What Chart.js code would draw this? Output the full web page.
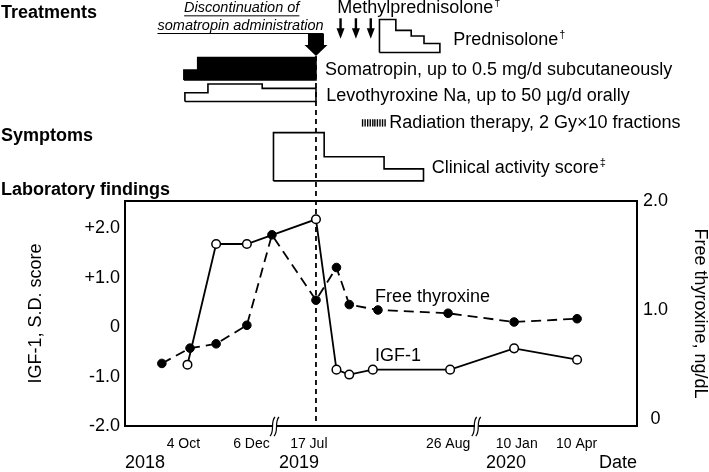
<!DOCTYPE html>
<html>
<head>
<meta charset="utf-8">
<title>Treatments, symptoms and laboratory findings</title>
<script src="https://cdn.jsdelivr.net/npm/chart.js@4.4.1/dist/chart.umd.min.js"></script>
<style>
  html, body { margin: 0; padding: 0; background: #fff; }
  canvas { display: block; }
</style>
</head>
<body>
<canvas id="timeline-chart" width="709" height="472"></canvas>
<script>
// Timeline is schematic (two axis breaks): 0 = left frame edge, 100 = right frame edge
const dateTickPos = [11.4, 24.7, 35.9, 63.1, 76.5, 88.2];
const dateTickLabels = ['4 Oct', '6 Dec', '17 Jul', '26 Aug', '10 Jan', '10 Apr'];
const yearTickPos = [3.9, 34.0, 74.4, 96.3];
const yearTickLabels = ['2018', '2019', '2020', 'Date'];
const axisBreakPos = [29.3, 68.7];

// Laboratory findings
const igfPos = [12.2, 17.8, 23.8, 37.3, 41.3, 43.8, 48.4, 63.5, 76.0, 88.3];
const igfScore = [-0.76, 1.68, 1.68, 2.18, -0.86, -0.96, -0.86, -0.86, -0.43, -0.66];
const ft4Pos = [7.2, 12.7, 17.8, 23.8, 28.7, 37.3, 41.3, 43.8, 49.4, 63.1, 76.0, 88.3];
const ft4Value = [0.51, 0.65, 0.69, 0.86, 1.69, 1.09, 1.39, 1.05, 1.00, 0.97, 0.89, 0.92];
const igfTicks = [-2, -1, 0, 1, 2];
const igfTickLabels = ['-2.0', '-1.0', '0', '+1.0', '+2.0'];
const ft4Ticks = [0, 1, 2];
const ft4TickLabels = ['0', '1.0', '2.0'];

// Treatments / symptoms: change points on the timeline and the level in between
const somatropinSteps = [11.5, 14.2, 37.3];
const somatropinLevel = [0.44, 1.0];          // fraction of 0.5 mg/d
const levothyroxineSteps = [11.7, 16.2, 26.8, 37.3];
const levothyroxineDose = [25, 50, 37.5];      // µg/d
const prednisoloneSteps = [49.7, 52.9, 55.9, 58.4, 61.5];
const prednisoloneLevel = [1.0, 0.67, 0.5, 0.27];
const casSteps = [29.0, 38.9, 50.6, 58.3];
const casScore = [4, 2, 1];
const methylprednisolonePulses = [42.1, 45.1, 48.0];
const radiationFractions = [46.4, 46.9, 47.4, 47.9, 48.4, 48.8, 49.3, 49.8, 50.3, 50.8];
const somatropinStop = 37.3;

// rows of the schematic panel (yT scale, 0 = top, 20 = top of the lab frame)
const tracks = {
  prednisolone: { base: 5.22, unit: 3.28 },
  somatropin: { base: 7.96, unit: 2.24 },
  levothyroxine: { base: 10.1, unit: 1.74 / 50 },
  radiation: { row: 12.23 },
  cas: { base: 18.0, unit: 1.2 }
};
const bigArrow = { top: 3.38, mid: 4.48, tip: 5.57, rectW: 16, headW: 23 };
const smallArrow = { top: 1.82, mid: 2.8, tip: 3.85, shaftW: 2.4, headW: 8 };

const FAMILY = '"Liberation Sans", Arial, Helvetica, sans-serif';
const notes = [
  { text: 'Treatments', margin: 1, y: 1.26, bold: true },
  { text: 'Symptoms', margin: 1, y: 13.53, bold: true },
  { text: 'Laboratory findings', margin: 1, y: 18.9, bold: true },
  { text: 'Discontinuation of', x: 22.8, y: 0.83, italic: true, size: 14.5, align: 'center', underline: true },
  { text: 'somatropin administration', x: 22.56, y: 2.59, italic: true, size: 14.5, align: 'center', underline: true },
  { text: 'Methylprednisolone', sup: '\u2020', x: 41.46, y: 0.83 },
  { text: 'Prednisolone', sup: '\u2020', x: 64.1, y: 3.98 },
  { text: 'Somatropin, up to 0.5 mg/d subcutaneously', x: 39.06, y: 6.97 },
  { text: 'Levothyroxine Na, up to 50 \u00b5g/d orally', x: 39.3, y: 9.55 },
  { text: 'Radiation therapy, 2 Gy\u00d710 fractions', x: 51.6, y: 12.2 },
  { text: 'Clinical activity score', sup: '\u2021', x: 59.9, y: 16.67 },
  { text: 'Free thyroxine', x: 48.83, y: 1.122, axis: 'y2' },
  { text: 'IGF-1', x: 48.83, y: -0.58, axis: 'y' }
];

function stepPolygon(steps, levels, track) {
  const pts = [{ x: steps[0], y: track.base }];
  levels.forEach((lv, i) => {
    const top = track.base - lv * track.unit;
    pts.push({ x: steps[i], y: top }, { x: steps[i + 1], y: top });
  });
  pts.push({ x: steps[steps.length - 1], y: track.base }, { x: steps[0], y: track.base });
  return pts;
}

function fontStr(n) {
  return (n.italic ? 'italic ' : '') + (n.bold ? 'bold ' : '') + (n.size || 18) + 'px ' + FAMILY;
}

// no label overflow padding, the frame is laid out by hand
function noOverflow(s) {
  s.paddingTop = 0; s.paddingBottom = 0; s.paddingLeft = 0; s.paddingRight = 0;
}

const timelineDecor = {
  id: 'timelineDecor',
  beforeDatasetsDraw(chart) {
    const { ctx, scales: { x, y, yT } } = chart;
    const px = x.getPixelForValue(somatropinStop);
    ctx.save();
    ctx.strokeStyle = '#000';
    ctx.lineWidth = 1.8;
    ctx.setLineDash([5, 4]);
    ctx.beginPath();
    ctx.moveTo(px, yT.getPixelForValue(bigArrow.tip));
    ctx.lineTo(px, y.bottom);
    ctx.stroke();
    ctx.restore();
  },
  afterDraw(chart) {
    const { ctx, scales } = chart;
    const { x, y, yT } = scales;
    ctx.save();

    // top edge of the lab frame
    ctx.strokeStyle = '#000';
    ctx.lineWidth = 2;
    ctx.beginPath();
    ctx.moveTo(x.left - 1, y.top);
    ctx.lineTo(x.right + 1, y.top);
    ctx.stroke();

    // discontinuation arrow
    ctx.fillStyle = '#000';
    const px = x.getPixelForValue(somatropinStop);
    const aTop = yT.getPixelForValue(bigArrow.top);
    const aMid = yT.getPixelForValue(bigArrow.mid);
    const aTip = yT.getPixelForValue(bigArrow.tip);
    ctx.beginPath();
    ctx.moveTo(px - bigArrow.rectW / 2, aTop);
    ctx.lineTo(px + bigArrow.rectW / 2, aTop);
    ctx.lineTo(px + bigArrow.rectW / 2, aMid);
    ctx.lineTo(px + bigArrow.headW / 2, aMid);
    ctx.lineTo(px, aTip);
    ctx.lineTo(px - bigArrow.headW / 2, aMid);
    ctx.lineTo(px - bigArrow.rectW / 2, aMid);
    ctx.closePath();
    ctx.fill();

    // methylprednisolone pulses
    const sTop = yT.getPixelForValue(smallArrow.top);
    const sMid = yT.getPixelForValue(smallArrow.mid);
    const sTip = yT.getPixelForValue(smallArrow.tip);
    methylprednisolonePulses.forEach(v => {
      const cx = x.getPixelForValue(v);
      ctx.fillRect(cx - smallArrow.shaftW / 2, sTop, smallArrow.shaftW, sMid - sTop + 1);
      ctx.beginPath();
      ctx.moveTo(cx - smallArrow.headW / 2, sMid);
      ctx.lineTo(cx + smallArrow.headW / 2, sMid);
      ctx.lineTo(cx, sTip);
      ctx.closePath();
      ctx.fill();
    });

    // axis breaks on the date axis
    const by = x.top;
    axisBreakPos.forEach(v => {
      const cx = x.getPixelForValue(v);
      ctx.fillStyle = '#fff';
      ctx.fillRect(cx - 2, by - 2, 4, 4);
      ctx.strokeStyle = '#000';
      ctx.lineWidth = 1.2;
      [-2, 2].forEach(d => {
        ctx.beginPath();
        ctx.moveTo(cx + d - 3, by + 10);
        ctx.bezierCurveTo(cx + d + 2, by + 5, cx + d - 3, by - 4, cx + d + 2, by - 9);
        ctx.stroke();
      });
    });

    // text annotations
    ctx.fillStyle = '#000';
    ctx.textBaseline = 'middle';
    notes.forEach(n => {
      const sy = scales[n.axis || 'yT'];
      const tx = n.margin !== undefined ? n.margin : x.getPixelForValue(n.x);
      const ty = sy.getPixelForValue(n.y);
      const align = n.align || 'left';
      ctx.font = fontStr(n);
      ctx.textAlign = align;
      ctx.fillText(n.text, tx, ty);
      const w = ctx.measureText(n.text).width;
      const x0 = align === 'center' ? tx - w / 2 : tx;
      if (n.underline) {
        ctx.lineWidth = 1;
        ctx.beginPath();
        ctx.moveTo(x0, ty + 7.5);
        ctx.lineTo(x0 + w, ty + 7.5);
        ctx.stroke();
      }
      if (n.sup) {
        ctx.font = '11px ' + FAMILY;
        ctx.textAlign = 'left';
        ctx.fillText(n.sup, x0 + w + 1, ty - 5);
      }
    });
    ctx.restore();
  }
};

const ctx = document.getElementById('timeline-chart');
Chart.defaults.font.family = FAMILY;
Chart.defaults.color = '#000';

const outline = {
  yAxisID: 'yT', borderColor: '#000', borderWidth: 1.6, pointRadius: 0,
  fill: false, tension: 0
};
const noGrid = { display: false, drawTicks: false };

new Chart(ctx, {
  type: 'line',
  data: {
    datasets: [{
      label: 'IGF-1',
      data: igfPos.map((v, i) => ({ x: v, y: igfScore[i] })),
      yAxisID: 'y',
      borderColor: '#000',
      borderWidth: 1.8,
      pointRadius: 4.3,
      pointBackgroundColor: '#fff',
      pointBorderColor: '#000',
      pointBorderWidth: 1.5,
      fill: false,
      tension: 0
    },
    {
      label: 'Free thyroxine',
      data: ft4Pos.map((v, i) => ({ x: v, y: ft4Value[i] })),
      yAxisID: 'y2',
      borderColor: '#000',
      borderWidth: 1.8,
      borderDash: [10, 6],
      pointRadius: 4.3,
      pointBackgroundColor: '#000',
      pointBorderColor: '#000',
      pointBorderWidth: 1,
      fill: false,
      tension: 0
    },
    Object.assign({}, outline, {
      label: 'Somatropin',
      data: stepPolygon(somatropinSteps, somatropinLevel, tracks.somatropin),
      backgroundColor: '#000',
      fill: 'shape'
    }),
    Object.assign({}, outline, {
      label: 'Levothyroxine Na',
      data: stepPolygon(levothyroxineSteps, levothyroxineDose, tracks.levothyroxine)
    }),
    Object.assign({}, outline, {
      label: 'Prednisolone',
      data: stepPolygon(prednisoloneSteps, prednisoloneLevel, tracks.prednisolone)
    }),
    Object.assign({}, outline, {
      label: 'Clinical activity score',
      data: stepPolygon(casSteps, casScore, tracks.cas)
    }),
    {
      label: 'Radiation therapy',
      data: radiationFractions.map(v => ({ x: v, y: tracks.radiation.row })),
      yAxisID: 'yT',
      showLine: false,
      pointStyle: 'line',
      pointRotation: 90,
      pointRadius: 3.7,
      pointBorderWidth: 1.4,
      pointBorderColor: '#000'
    }]
  },
  options: {
    responsive: false,
    animation: false,
    layout: { padding: 0, autoPadding: false },
    plugins: { legend: { display: false }, tooltip: { enabled: false } },
    scales: {
      x: {
        type: 'linear', position: 'bottom', weight: 0, min: 0, max: 100,
        grid: noGrid,
        border: { display: true, width: 2, color: '#000' },
        afterBuildTicks: s => { s.ticks = dateTickPos.map(v => ({ value: v })); },
        afterFit: s => { s.height = 26.5; noOverflow(s); },
        ticks: {
          autoSkip: false, maxRotation: 0, padding: 9.5,
          font: { size: 14, lineHeight: 1.2 },
          callback: (v, i) => dateTickLabels[i]
        }
      },
      x2: {
        type: 'linear', position: 'bottom', weight: 1, min: 0, max: 100,
        grid: noGrid,
        border: { display: false },
        afterBuildTicks: s => { s.ticks = yearTickPos.map(v => ({ value: v })); },
        afterFit: s => { s.height = 19.5; noOverflow(s); },
        ticks: {
          autoSkip: false, maxRotation: 0, padding: 1.5,
          font: { size: 18, lineHeight: 1 },
          callback: (v, i) => yearTickLabels[i]
        }
      },
      yT: {
        type: 'linear', position: 'left', stack: 'L', stackWeight: 201, weight: 2,
        display: false, reverse: true, min: 0, max: 20
      },
      y: {
        type: 'linear', position: 'left', stack: 'L', stackWeight: 225, weight: 1,
        min: -2, max: 2.55,
        grid: noGrid,
        border: { display: true, width: 2, color: '#000' },
        afterBuildTicks: s => { s.ticks = igfTicks.map(v => ({ value: v })); },
        afterFit: s => { s.width = 125; noOverflow(s); },
        ticks: {
          padding: 5, font: { size: 18 },
          callback: (v, i) => igfTickLabels[i]
        },
        title: {
          display: true, text: 'IGF-1, S.D. score',
          font: { size: 18, lineHeight: 1 }, padding: { top: 27, bottom: 0 }
        }
      },
      y2T: {
        type: 'linear', position: 'right', stack: 'R', stackWeight: 201, weight: 0,
        display: false, min: 0, max: 1
      },
      y2: {
        type: 'linear', position: 'right', stack: 'R', stackWeight: 225, weight: 1,
        min: -0.064, max: 2.0,
        grid: noGrid,
        border: { display: true, width: 2, color: '#000' },
        afterBuildTicks: s => { s.ticks = ft4Ticks.map(v => ({ value: v })); },
        afterFit: s => { s.width = 72; noOverflow(s); },
        ticks: {
          padding: 6, crossAlign: 'center', font: { size: 18 },
          callback: (v, i) => ft4TickLabels[i]
        },
        title: {
          display: true, text: 'Free thyroxine, ng/dL',
          font: { size: 18, lineHeight: 1 }, padding: { top: 0, bottom: 0 }
        }
      }
    }
  },
  plugins: [timelineDecor]
});
</script>
</body>
</html>
